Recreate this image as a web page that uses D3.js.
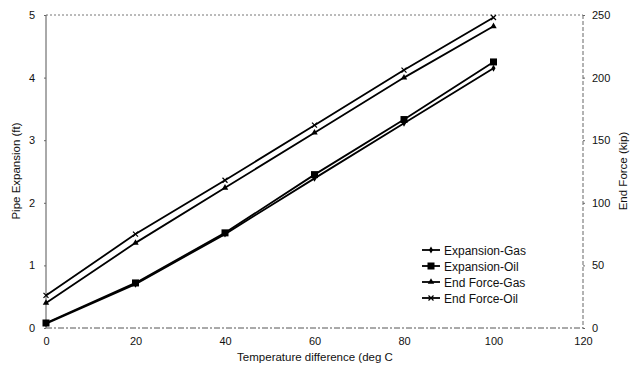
<!DOCTYPE html>
<html><head><meta charset="utf-8">
<script src="https://cdn.jsdelivr.net/npm/d3@7"></script>
<style>body{margin:0;background:#fff}svg{display:block}text{font-family:"Liberation Sans",Arial,sans-serif;fill:#111}</style>
</head><body><svg id="c" width="637" height="367"></svg>
<script>
const temps = [0, 20, 40, 60, 80, 100];
const expansionGas = [0.07, 0.70, 1.50, 2.39, 3.27, 4.15];
const expansionOil = [0.08, 0.72, 1.52, 2.45, 3.33, 4.25];
const endForceGas = [20, 68, 112, 156, 200, 241];
const endForceOil = [26, 75, 118, 162, 206, 248];
const xTicks = [0, 20, 40, 60, 80, 100, 120];
const yLeftTicks = [0, 1, 2, 3, 4, 5];
const yRightTicks = [0, 50, 100, 150, 200, 250];
const legendLabels = ["Expansion-Gas", "Expansion-Oil", "End Force-Gas", "End Force-Oil"];

const svg = d3.select("#c");
const L = 46, R = 583, T = 15, B = 328;
const x = d3.scaleLinear().domain([0, 120]).range([L, R]);
const yl = d3.scaleLinear().domain([0, 5]).range([B, T]);
const yr = d3.scaleLinear().domain([0, 250]).range([B, T]);

// frame
svg.append("line").attr("x1", L).attr("x2", R).attr("y1", T).attr("y2", T)
  .attr("stroke", "#777").attr("stroke-dasharray", "2,2");
svg.append("line").attr("x1", L).attr("x2", R).attr("y1", B).attr("y2", B)
  .attr("stroke", "#555").attr("stroke-dasharray", "6,2,2,2");
svg.append("line").attr("x1", L).attr("x2", L).attr("y1", T).attr("y2", B)
  .attr("stroke", "#555").attr("stroke-width", 1);
svg.append("line").attr("x1", R).attr("x2", R).attr("y1", T).attr("y2", B)
  .attr("stroke", "#666").attr("stroke-dasharray", "4,2");

// axes
const gx = svg.append("g").attr("transform", `translate(0,${B})`)
  .call(d3.axisBottom(x).tickValues(xTicks).tickSize(0).tickPadding(9));
const gl = svg.append("g").attr("transform", `translate(${L},0)`)
  .call(d3.axisLeft(yl).tickValues(yLeftTicks).tickFormat(d3.format("d")).tickSize(2).tickPadding(9));
const gr = svg.append("g").attr("transform", `translate(${R},0)`)
  .call(d3.axisRight(yr).tickValues(yRightTicks).tickSize(2).tickPadding(7));
[gx, gl, gr].forEach(g => {
  g.select(".domain").remove();
  g.selectAll("text").attr("font-size", 11).attr("fill", "#111")
    .style("font-family", "'Liberation Sans',Arial,sans-serif");
  g.selectAll("line").attr("stroke", "#666");
});

// titles
svg.append("text").attr("x", 315).attr("y", 361).attr("text-anchor", "middle")
  .attr("font-size", 11.5).text("Temperature difference (deg C");
svg.append("text").attr("transform", "translate(20,171) rotate(-90)").attr("text-anchor", "middle")
  .attr("font-size", 11.5).text("Pipe Expansion (ft)");
svg.append("text").attr("transform", "translate(627,171) rotate(-90)").attr("text-anchor", "middle")
  .attr("font-size", 11.5).text("End Force (kip)");

// series
const series = [
  {vals: expansionGas, y: yl, marker: "diamond"},
  {vals: expansionOil, y: yl, marker: "square"},
  {vals: endForceGas, y: yr, marker: "triangle"},
  {vals: endForceOil, y: yr, marker: "x"}
];
function drawMarker(g, type, cx, cy) {
  if (type === "diamond") {
    g.append("path").attr("d", d3.symbol(d3.symbolDiamond, 14)()).attr("transform", `translate(${cx},${cy})`).attr("fill", "#000");
  } else if (type === "square") {
    g.append("rect").attr("x", cx - 3.5).attr("y", cy - 3.5).attr("width", 7).attr("height", 7).attr("fill", "#000");
  } else if (type === "triangle") {
    g.append("path").attr("d", d3.symbol(d3.symbolTriangle, 18)()).attr("transform", `translate(${cx},${cy})`).attr("fill", "#000");
  } else {
    g.append("path").attr("d", `M${cx-2.5},${cy-2.5}L${cx+2.5},${cy+2.5}M${cx-2.5},${cy+2.5}L${cx+2.5},${cy-2.5}`)
      .attr("stroke", "#000").attr("stroke-width", 1.2);
  }
}
series.forEach(s => {
  const line = d3.line().x((d, i) => x(temps[i])).y(d => s.y(d));
  svg.append("path").datum(s.vals).attr("d", line).attr("fill", "none")
    .attr("stroke", "#000").attr("stroke-width", 1.8);
  const g = svg.append("g");
  s.vals.forEach((v, i) => drawMarker(g, s.marker, x(temps[i]), s.y(v)));
});

// legend
const lg = svg.append("g");
legendLabels.forEach((lab, i) => {
  const yy = 250 + i * 16;
  lg.append("line").attr("x1", 422).attr("x2", 440).attr("y1", yy).attr("y2", yy)
    .attr("stroke", "#000").attr("stroke-width", 1.8);
  drawMarker(lg, series[i].marker, 431, yy);
  lg.append("text").attr("x", 444).attr("y", yy + 4.5).attr("font-size", 12).text(lab);
});
</script></body></html>
